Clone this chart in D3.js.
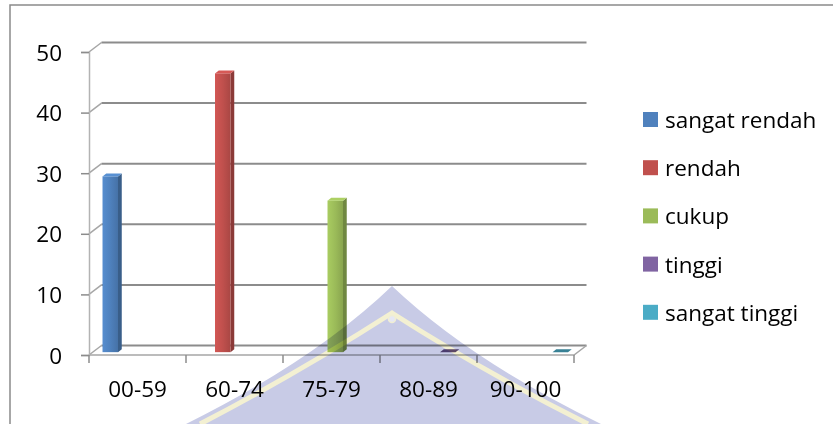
<!DOCTYPE html>
<html>
<head>
<meta charset="utf-8">
<script src="https://cdn.jsdelivr.net/npm/d3@7"></script>
<style>
  body { margin: 0; background: #fff; }
  svg { display: block; }
  text { font-family: "Open Sans", "Noto Sans", sans-serif; fill: #000; }
  .emblem { mix-blend-mode: multiply; }
</style>
</head>
<body>
<svg id="chart" width="833" height="424"></svg>
<script>
// Score bands on the x axis
const categories = ["00-59", "60-74", "75-79", "80-89", "90-100"];
// Series (achievement levels) and their colours
const seriesNames = ["sangat rendah", "rendah", "cukup", "tinggi", "sangat tinggi"];
const seriesColors = ["#4f81bd", "#c0504d", "#9bbb59", "#8064a2", "#4bacc6"];
// Number of students per band; each level only has a count in its own band
const sangatRendah = [29, null, null, null, null];
const rendah       = [null, 46, null, null, null];
const cukup        = [null, null, 25, null, null];
const tinggi       = [null, null, null, 0, null];
const sangatTinggi = [null, null, null, null, 0];
const yTicks = [0, 10, 20, 30, 40, 50];

const seriesValues = [sangatRendah, rendah, cukup, tinggi, sangatTinggi];
const series = seriesNames.map((name, i) => ({ name, color: seriesColors[i], values: seriesValues[i] }));

const svg = d3.select("#chart");

// ---- chart frame ----
svg.append("rect")
  .attr("x", 10).attr("y", 5).attr("width", 900).attr("height", 500)
  .attr("fill", "none").attr("stroke", "#8a8a8a").attr("stroke-width", 1.5);

// ---- scales ----
const x0 = d3.scaleBand().domain(categories).range([89, 574]).paddingInner(0).paddingOuter(0);
const x1 = d3.scaleBand().domain(seriesNames).range([0, x0.bandwidth()]).paddingInner(0).paddingOuter(0.63);
const y = d3.scaleLinear().domain([0, 50]).range([355, 52]);

// depth of the 3-D box and position of the columns inside it
const DX = 12.5, DY = -9.5;
const dFront = 0.3, dBack = 0.6;

// ---- walls: side-wall diagonals and back-wall gridlines ----
const grid = svg.append("g");
grid.selectAll("line.side").data(yTicks).join("line")
  .attr("class", "side")
  .attr("x1", x0.range()[0]).attr("y1", d => y(d))
  .attr("x2", x0.range()[0] + DX).attr("y2", d => y(d) + DY)
  .attr("stroke", "#a6a6a6").attr("stroke-width", 1.5);
grid.selectAll("line.back").data(yTicks).join("line")
  .attr("class", "back")
  .attr("x1", x0.range()[0] + DX).attr("y1", d => y(d) + DY)
  .attr("x2", x0.range()[1] + DX).attr("y2", d => y(d) + DY)
  .attr("stroke", "#8c8c8c").attr("stroke-width", 2);

// floor outline
const floor = d3.path();
floor.moveTo(x0.range()[0], y(0));
floor.lineTo(x0.range()[1], y(0));
floor.lineTo(x0.range()[1] + DX, y(0) + DY);
svg.append("path").attr("d", floor.toString())
  .attr("fill", "none").attr("stroke", "#a6a6a6").attr("stroke-width", 1.5);

// ---- axes ----
const yAxis = d3.axisLeft(y).tickValues(yTicks).tickSize(8).tickPadding(0).tickFormat(d3.format("d"));
const gy = svg.append("g").attr("transform", `translate(${x0.range()[0]},0)`).call(yAxis);
gy.select(".domain").attr("stroke", "#b3b3b3").attr("stroke-width", 1.5);
gy.selectAll(".tick line").attr("stroke", "#8c8c8c").attr("stroke-width", 1.5);
gy.selectAll(".tick text")
  .attr("x", -27).attr("dy", "0.36em")
  .attr("font-size", 22.5).attr("font-family", "Open Sans").attr("fill", "#000");

const xAxis = d3.axisBottom(x0).tickSize(0).tickPadding(0);
const gx = svg.append("g").attr("transform", `translate(0,${y(0)})`).call(xAxis);
gx.select(".domain").remove();
gx.selectAll(".tick text")
  .attr("y", 42).attr("dy", 0)
  .attr("font-size", 22.5).attr("font-family", "Open Sans").attr("fill", "#000");
// category boundary ticks
const bounds = categories.map(c => x0(c)).concat([x0.range()[1]]);
gx.selectAll("line.bound").data(bounds).join("line")
  .attr("class", "bound")
  .attr("x1", d => d).attr("x2", d => d).attr("y1", 0).attr("y2", 8)
  .attr("stroke", "#8c8c8c").attr("stroke-width", 1.5);

// ---- 3-D columns ----
const defs = svg.append("defs");
series.forEach((s, i) => {
  const g = defs.append("linearGradient").attr("id", "front" + i)
    .attr("x1", 0).attr("x2", 1).attr("y1", 0).attr("y2", 0);
  g.append("stop").attr("offset", 0).attr("stop-color", d3.color(s.color).brighter(0.25));
  g.append("stop").attr("offset", 0.5).attr("stop-color", s.color);
  g.append("stop").attr("offset", 1).attr("stop-color", d3.color(s.color).darker(0.35));
});

const bars = [];
series.forEach((s, i) => {
  s.values.forEach((v, ci) => {
    if (v === null) return;
    bars.push({ s, i, c: categories[ci], v });
  });
});

const w = x1.bandwidth();
const fdx = DX * dFront, fdy = DY * dFront;
const ddx = DX * (dBack - dFront), ddy = DY * (dBack - dFront);

const gb = svg.append("g").attr("class", "bars");
bars.forEach(b => {
  const xl = x0(b.c) + x1(b.s.name) + fdx;
  const xr = xl + w;
  const yt = y(b.v) + fdy;
  const yb = y(0) + fdy;
  const base = d3.color(b.s.color);
  const g = gb.append("g");
  // right side face
  g.append("path")
    .attr("d", `M${xr},${yt}L${xr + ddx},${yt + ddy}L${xr + ddx},${yb + ddy}L${xr},${yb}Z`)
    .attr("fill", base.darker(0.9));
  // front face
  if (yb - yt > 0) {
    g.append("rect").attr("x", xl).attr("y", yt).attr("width", w).attr("height", yb - yt)
      .attr("fill", `url(#front${b.i})`);
  }
  // top face
  g.append("path")
    .attr("d", `M${xl},${yt}L${xr},${yt}L${xr + ddx},${yt + ddy}L${xl + ddx},${yt + ddy}Z`)
    .attr("fill", b.v > 0 ? base.brighter(0.3) : base.darker(0.8));
});

// ---- legend ----
const legend = svg.append("g").attr("transform", "translate(643,112)");
const li = legend.selectAll("g").data(series).join("g")
  .attr("transform", (d, i) => `translate(0,${i * 48.2})`);
li.append("rect").attr("width", 15).attr("height", 15).attr("fill", d => d.color);
li.append("text").attr("x", 22).attr("y", 16)
  .attr("font-size", 22.5).attr("font-family", "Open Sans")
  .text(d => d.name);

// ---- faint emblem printed over the page ----
const logo = svg.append("g").attr("class", "emblem");
logo.append("path")
  .attr("d", "M392,286 Q315,360 186,424 L601,424 Q470,360 392,286 Z")
  .attr("fill", "#c8cbe6");
logo.append("path")
  .attr("d", "M200,424 Q300,372 392,313 Q484,372 588,424")
  .attr("fill", "none").attr("stroke", "#f3f0d2").attr("stroke-width", 5);
logo.append("circle").attr("cx", 392).attr("cy", 319).attr("r", 3.5)
  .attr("fill", "#e6e8f4").attr("stroke", "#f0eed4").attr("stroke-width", 1.5);
</script>
</body>
</html>
